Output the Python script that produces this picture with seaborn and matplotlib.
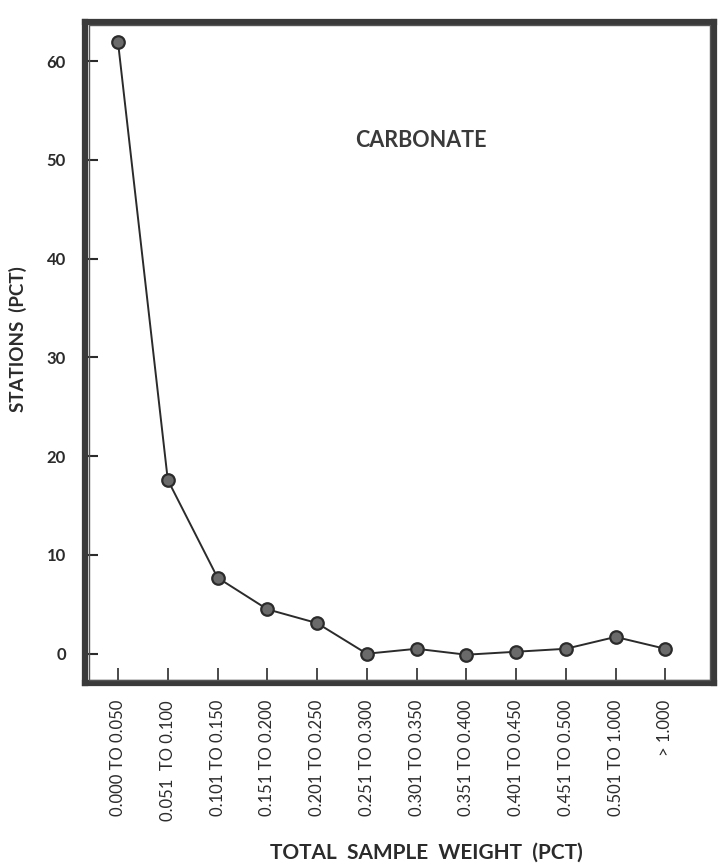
import matplotlib
matplotlib.use("Agg")
import matplotlib.pyplot as plt
import pandas as pd
import seaborn as sns
from matplotlib.patches import Rectangle

# weight classes (x categories) and percentage of stations in each
weight_classes = [
    "0.000 TO 0.050",
    "0.051  TO 0.100",
    "0.101 TO 0.150",
    "0.151 TO 0.200",
    "0.201 TO 0.250",
    "0.251 TO 0.300",
    "0.301 TO 0.350",
    "0.351 TO 0.400",
    "0.401 TO 0.450",
    "0.451 TO 0.500",
    "0.501 TO 1.000",
    "> 1.000",
]
stations_pct = [61.9, 17.6, 7.7, 4.5, 3.1, 0.0, 0.5, -0.1, 0.2, 0.5, 1.7, 0.5]
y_ticks = [0, 10, 20, 30, 40, 50, 60]

df = pd.DataFrame({"weight": weight_classes, "stations": stations_pct})

sns.set_style("white")
plt.rcParams["font.family"] = ["Lato", "DejaVu Sans"]

ink = "#2b2b2b"
fig = plt.figure(figsize=(7.22, 8.65), dpi=100)
ax = fig.add_axes([0.118, 0.210, 0.871, 0.765])

sns.pointplot(
    data=df, x="weight", y="stations", order=weight_classes,
    color=ink, markers="o", linestyles="-", linewidth=1.4,
    markersize=9, markerfacecolor="#6a6a6a", markeredgecolor=ink,
    markeredgewidth=1.6, ax=ax,
)

ax.set_xlim(-0.66, 11.98)
ax.set_ylim(-3, 64)
ax.set_yticks(y_ticks)
ax.set_yticklabels([str(t) for t in y_ticks], fontsize=12, fontweight="bold", color=ink)
ax.set_xticks(range(len(weight_classes)))
ax.set_xticklabels(weight_classes, rotation=90, fontsize=12, color=ink, va="top")

ax.tick_params(axis="y", direction="in", length=9, width=1.5, color=ink, pad=14, left=True)
ax.tick_params(axis="x", direction="in", length=11, width=1.2, color=ink, pad=12, bottom=True)

for side in ["left", "right", "top", "bottom"]:
    ax.spines[side].set_visible(True)
    ax.spines[side].set_linewidth(4.5)
    ax.spines[side].set_color("#3a3a3a")

# thin inner line of the double frame
ax.add_patch(Rectangle((0.006, 0.005), 0.988, 0.99, transform=ax.transAxes,
                       fill=False, edgecolor="#555555", linewidth=1.0, zorder=5))

ax.set_xlabel("")
ax.set_ylabel("STATIONS  (PCT)", fontsize=13.5, fontweight="bold", color=ink)
ax.yaxis.set_label_coords(-0.092, 0.52)
ax.text(0.43, 0.82, "CARBONATE", transform=ax.transAxes, fontsize=15.5,
        fontweight="bold", color="#3a3a3a", ha="left", va="center")
fig.text(0.59, 0.003, "TOTAL  SAMPLE  WEIGHT  (PCT)", fontsize=15,
         fontweight="bold", color=ink, ha="center", va="bottom")

fig.savefig("out.png", dpi=100)
plt.close(fig)
